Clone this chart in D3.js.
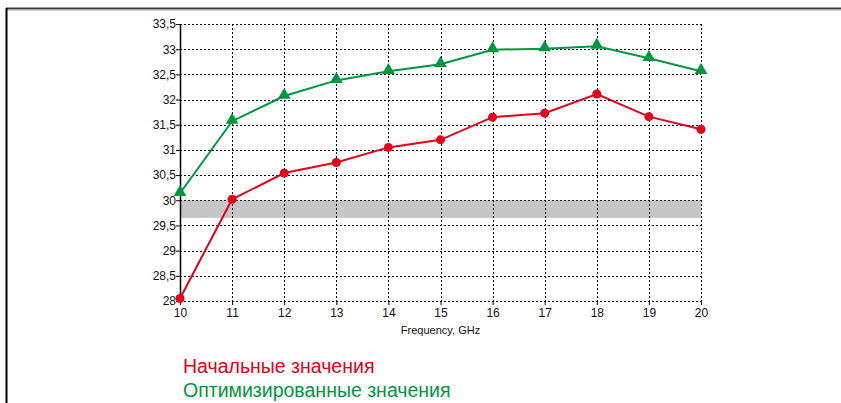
<!DOCTYPE html>
<head>
  <meta charset="utf-8">
  <style>
    body { margin: 0; background: #fff; }
    svg text { font-family: "Liberation Sans", Arial, sans-serif; fill: #111; }
    svg .grid { stroke: #000; stroke-width: 1px; stroke-dasharray: 2,2; }
    svg .tick text { font-size: 12px; }
  </style>
</head>

<body>
<script src="https://d3js.org/d3.v7.min.js"></script>

<script>
  // data
  var freq = [10, 11, 12, 13, 14, 15, 16, 17, 18, 19, 20];
  var initial = [28.05, 30.02, 30.54, 30.75, 31.05, 31.2, 31.65, 31.73, 32.11, 31.66, 31.41];
  var optimized = [30.14, 31.57, 32.07, 32.38, 32.56, 32.7, 32.99, 33.01, 33.06, 32.82, 32.56];
  var yTicks = [28, 28.5, 29, 29.5, 30, 30.5, 31, 31.5, 32, 32.5, 33, 33.5];
  var band = [29.65, 30];
  var legendLabels = ["Начальные значения", "Оптимизированные значения"];
  var xLabel = "Frequency, GHz";

  var W = 841, H = 403;
  var plot = { left: 180, right: 701, top: 24, bottom: 301 };
  var red = "#e2001a", green = "#00963f";

  var svg = d3.select("body").append("svg")
      .attr("width", W)
      .attr("height", H);

  // frame: top rule and left edge
  svg.append("line").attr("x1", 6).attr("x2", W).attr("y1", 8.5).attr("y2", 8.5)
      .style("stroke", "#3a3a3a").style("stroke-width", 2);
  svg.append("line").attr("x1", 6).attr("x2", W).attr("y1", 10).attr("y2", 10)
      .style("stroke", "#aaa").style("stroke-width", 1);
  svg.append("line").attr("x1", 6.5).attr("x2", 6.5).attr("y1", 8).attr("y2", H)
      .style("stroke", "#000").style("stroke-width", 2);

  var x = d3.scaleLinear().domain([10, 20]).range([plot.left, plot.right]);
  var y = d3.scaleLinear().domain([28, 33.5]).range([plot.bottom, plot.top]);

  // grey band
  svg.append("rect")
      .attr("x", x(10))
      .attr("y", y(band[1]))
      .attr("width", x(20) - x(10))
      .attr("height", y(band[0]) - y(band[1]))
      .style("fill", "#c6c6c6");

  // grid
  svg.append("g").selectAll("line.h")
      .data(yTicks)
    .join("line")
      .classed("grid", true)
      .attr("x1", x(10)).attr("x2", x(20))
      .attr("y1", function (d) { return Math.round(y(d)) + 0.5; })
      .attr("y2", function (d) { return Math.round(y(d)) + 0.5; });

  svg.append("g").selectAll("line.v")
      .data(freq)
    .join("line")
      .classed("grid", true)
      .attr("x1", function (d) { return Math.round(x(d)) + 0.5; })
      .attr("x2", function (d) { return Math.round(x(d)) + 0.5; })
      .attr("y1", y(33.5)).attr("y2", y(28));

  // axes
  var xAxis = d3.axisBottom(x)
      .tickValues(freq)
      .tickSize(4)
      .tickSizeOuter(0)
      .tickFormat(d3.format("d"));

  var gx = svg.append("g")
      .attr("transform", "translate(0," + plot.bottom + ")")
      .call(xAxis);
  gx.select(".domain").remove();
  gx.selectAll(".tick line").style("stroke", "#000");
  gx.selectAll(".tick text").attr("y", 7);

  var yAxis = d3.axisLeft(y)
      .tickValues(yTicks)
      .tickSize(4)
      .tickSizeOuter(0)
      .tickFormat(function (d) { return String(d).replace(".", ","); });

  var gy = svg.append("g")
      .attr("transform", "translate(" + plot.left + ",0)")
      .call(yAxis);
  gy.select(".domain").style("stroke", "#000").style("stroke-width", 1.5);
  gy.selectAll(".tick line").style("stroke", "#000");
  gy.selectAll(".tick text").attr("x", -4);

  svg.append("text")
      .attr("x", (plot.left + plot.right) / 2)
      .attr("y", 334)
      .attr("text-anchor", "middle")
      .style("font-size", "11px")
      .text(xLabel);

  // series
  var line = d3.line()
      .x(function (d, i) { return x(freq[i]); })
      .y(function (d) { return y(d); });

  svg.append("path")
      .attr("d", line(initial))
      .style("fill", "none")
      .style("stroke", red)
      .style("stroke-width", 2);

  svg.append("path")
      .attr("d", line(optimized))
      .style("fill", "none")
      .style("stroke", green)
      .style("stroke-width", 2);

  svg.append("g").selectAll("circle")
      .data(initial)
    .join("circle")
      .attr("cx", function (d, i) { return x(freq[i]); })
      .attr("cy", function (d) { return y(d); })
      .attr("r", 4.5)
      .style("fill", red);

  var tri = d3.symbol().type(d3.symbolTriangle).size(70);
  svg.append("g").selectAll("path")
      .data(optimized)
    .join("path")
      .attr("transform", function (d, i) {
        return "translate(" + x(freq[i]) + "," + (y(d) - 1) + ")";
      })
      .attr("d", tri)
      .style("fill", green);

  // legend
  svg.append("g").selectAll("text")
      .data(legendLabels)
    .join("text")
      .attr("x", 183)
      .attr("y", function (d, i) { return 373 + i * 24; })
      .style("font-size", "19.5px")
      .style("fill", function (d, i) { return i === 0 ? red : green; })
      .text(function (d) { return d; });
</script>
</body>
</html>
